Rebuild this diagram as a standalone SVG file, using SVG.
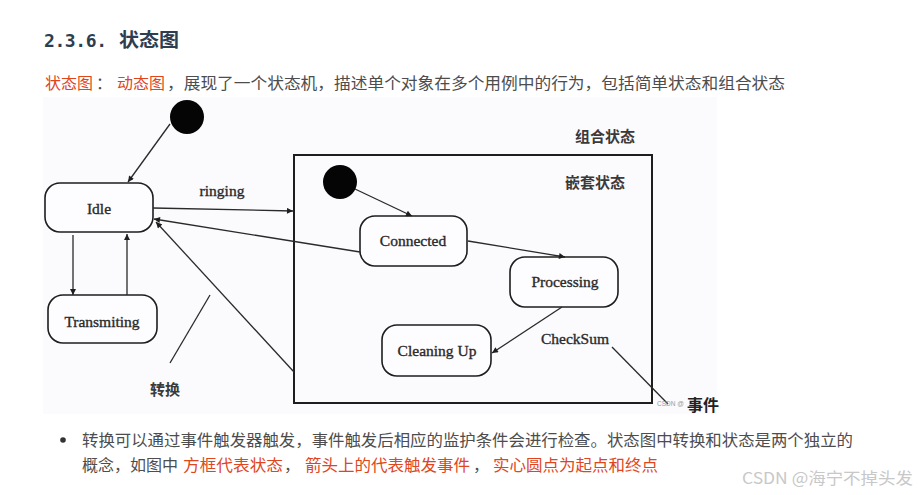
<svg xmlns="http://www.w3.org/2000/svg" width="918" height="495" viewBox="0 0 918 495">
<defs>
<style>
.h{font-family:"Noto Sans CJK SC","Liberation Sans",sans-serif;font-weight:700;font-size:19px;fill:#2c3e50}
.t{font-family:"Noto Sans CJK SC","Liberation Sans",sans-serif;font-size:16px;fill:#4d4d4d}
.r{fill:#e0461e}
.box{fill:#fdfcfe;stroke:#1e1e1e;stroke-width:1.6}
.lbl{font-family:"Liberation Serif","Times New Roman",serif;font-size:15.5px;fill:#2a2a2a;stroke:#2a2a2a;stroke-width:0.35;text-anchor:middle}
.cn{font-family:"Noto Sans CJK SC",serif;font-weight:700;font-size:15px;fill:#3a3a3a;text-anchor:middle}
.ln{stroke:#2a2a2a;stroke-width:1.3;fill:none}
.ar{stroke:#2a2a2a;stroke-width:1.3;fill:none;marker-end:url(#ah)}
</style>
<marker id="ah" viewBox="0 0 10 10" refX="10" refY="5" markerWidth="7" markerHeight="6" markerUnits="userSpaceOnUse" orient="auto">
<path d="M0,0 L10,5 L0,10 z" fill="#1e1e1e"/>
</marker>
</defs>
<rect width="918" height="495" fill="#ffffff"/>
<text class="h" x="44" y="47" textLength="63" lengthAdjust="spacing" style="font-family:'DejaVu Sans Mono','Liberation Mono',monospace;font-size:18px">2.3.6.</text>
<text class="h" x="119" y="47" textLength="60" lengthAdjust="spacingAndGlyphs">状态图</text>
<text class="t r" x="45" y="89" textLength="48" lengthAdjust="spacingAndGlyphs">状态图</text>
<text class="t" x="96" y="89">：</text>
<text class="t r" x="117" y="89" textLength="48" lengthAdjust="spacingAndGlyphs">动态图</text>
<text class="t" x="167" y="89" textLength="618" lengthAdjust="spacingAndGlyphs">，展现了一个状态机，描述单个对象在多个用例中的行为，包括简单状态和组合状态</text>
<rect x="43" y="97" width="674" height="317" fill="#fbfafd"/>
<g id="init1"><circle cx="187" cy="117" r="17" fill="#050505"/></g>
<g id="idle"><rect class="box" x="45" y="183" width="108" height="49" rx="15"/><text class="lbl" x="99" y="214">Idle</text></g>
<g id="transmiting"><rect class="box" x="48" y="295" width="109" height="48" rx="15"/><text class="lbl" x="102" y="327">Transmiting</text></g>
<g id="composite"><rect x="294" y="155" width="358" height="248" fill="none" stroke="#1e1e1e" stroke-width="2"/><text class="cn" x="605" y="142">组合状态</text><text class="cn" x="595" y="188">嵌套状态</text></g>
<g id="init2"><circle cx="340" cy="182" r="17" fill="#050505"/></g>
<g id="connected"><rect class="box" x="360" y="216" width="107" height="50" rx="15"/><text class="lbl" x="413" y="246">Connected</text></g>
<g id="processing"><rect class="box" x="510" y="257" width="108" height="50" rx="15"/><text class="lbl" x="565" y="287">Processing</text></g>
<g id="cleaning"><rect class="box" x="382" y="325" width="109" height="51" rx="15"/><text class="lbl" x="437" y="356">Cleaning Up</text></g>
<g id="connectors">
<line class="ar" x1="170" y1="124" x2="128" y2="182"/>
<line class="ar" x1="73" y1="235" x2="73" y2="295"/>
<line class="ar" x1="127" y1="295" x2="127" y2="234"/>
<line class="ar" x1="153" y1="208" x2="293" y2="211"/>
<line class="ar" x1="360" y1="252" x2="154" y2="219"/>
<line class="ar" x1="294" y1="372" x2="156" y2="222"/>
<line class="ar" x1="355" y1="189" x2="412" y2="216"/>
<line class="ar" x1="468" y1="241" x2="565" y2="257"/>
<line class="ar" x1="562" y1="307" x2="492" y2="353"/>
<text class="lbl" x="222" y="196">ringing</text>
<text class="lbl" x="575" y="344">CheckSum</text>
</g>
<g id="annotations">
<line class="ln" x1="210" y1="295" x2="170" y2="363" stroke-width="1.8"/>
<text class="cn" x="165" y="395">转换</text>
<line class="ln" x1="612" y1="347" x2="668" y2="404" stroke-width="1.8"/>
<text x="657" y="406" font-family="Liberation Sans,sans-serif" font-size="6.5" fill="#9a9a9a">CSDN @</text>
<text class="cn" x="703" y="411" style="fill:#222;font-size:16px">事件</text>
</g>
<circle cx="63" cy="440" r="2.8" fill="#333"/>
<text class="t" x="82" y="446" textLength="771" lengthAdjust="spacingAndGlyphs">转换可以通过事件触发器触发，事件触发后相应的监护条件会进行检查。状态图中转换和状态是两个独立的</text>
<text class="t" x="82" y="471" textLength="96" lengthAdjust="spacingAndGlyphs">概念，如图中</text>
<text class="t r" x="183" y="471" textLength="100" lengthAdjust="spacingAndGlyphs">方框代表状态</text>
<text class="t" x="284" y="471">，</text>
<text class="t r" x="305" y="471" textLength="165" lengthAdjust="spacingAndGlyphs">箭头上的代表触发事件</text>
<text class="t" x="473" y="471">，</text>
<text class="t r" x="493" y="471" textLength="165" lengthAdjust="spacingAndGlyphs">实心圆点为起点和终点</text>
<text x="742" y="484" font-family="Noto Sans CJK SC,Liberation Sans,sans-serif" font-size="16" fill="#c8c8c8" textLength="171" lengthAdjust="spacingAndGlyphs">CSDN @海宁不掉头发</text>
</svg>
